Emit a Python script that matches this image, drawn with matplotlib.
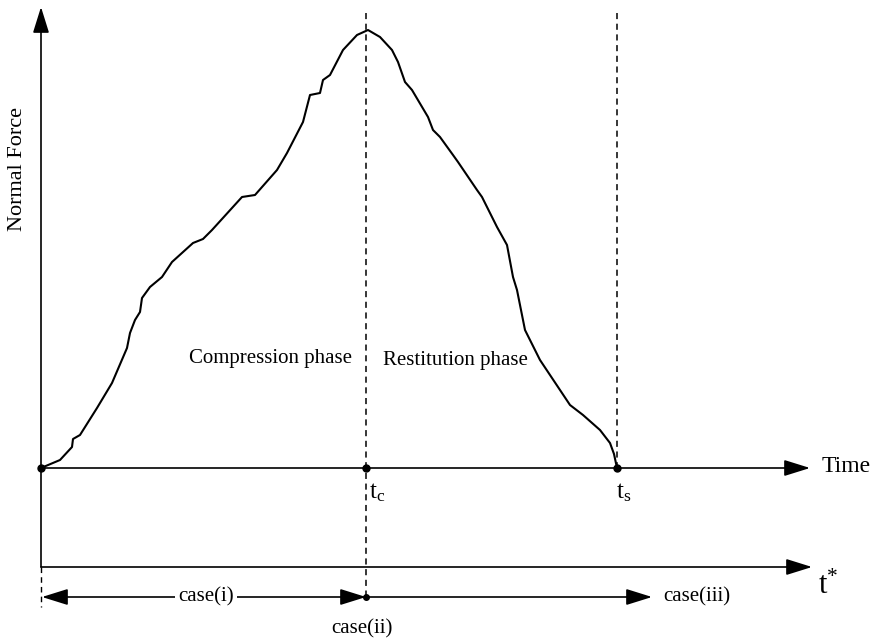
import matplotlib.pyplot as plt

plt.rcParams['font.family'] = ['Liberation Serif', 'DejaVu Serif']
plt.rcParams['mathtext.fontset'] = 'custom'
plt.rcParams['mathtext.rm'] = 'Liberation Serif'
plt.rcParams['mathtext.it'] = 'Liberation Serif'

# normal force curve (time, force in arbitrary units)
time = [0, 19, 31, 32, 39, 56, 71, 86, 89, 94, 99, 101, 109, 121, 131, 152,
        162, 171, 201, 214, 236, 246, 262, 269, 279, 282, 289, 302, 316, 327,
        339, 351, 357, 364, 371, 387, 392, 399, 412, 417, 436, 441, 456, 466,
        472, 476, 484, 499, 529, 542, 559, 569, 573, 576]
force = [0, 8, 21, 29, 33, 60, 85, 120, 135, 148, 156, 170, 181, 191, 206, 225,
         229, 238, 271, 273, 298, 315, 346, 373, 375, 388, 393, 418, 433, 438,
         431, 418, 406, 386, 378, 351, 338, 331, 313, 306, 278, 271, 241, 223,
         191, 178, 138, 108, 63, 53, 38, 25, 14, 0]

t_c = 325
t_s = 576
t_star_level = -99
case_level = -129

fig = plt.figure(figsize=(8.72, 6.43), dpi=100)
ax = fig.add_axes([0, 0, 1, 1])
ax.set_xlim(-41, 831)
ax.set_ylim(-175, 468)
ax.axis('off')

arrow = dict(arrowstyle='-|>,head_length=1.6,head_width=0.5', color='black',
             lw=1.2, mutation_scale=10, shrinkA=0, shrinkB=0)

# axes
ax.annotate('', xy=(0, 461), xytext=(0, t_star_level), arrowprops=arrow)
ax.plot([0, 0], [t_star_level, -139], color='black', lw=1.0, ls=(0, (4, 3)))
ax.annotate('', xy=(769, 0), xytext=(0, 0), arrowprops=arrow)
ax.annotate('', xy=(771, t_star_level), xytext=(0, t_star_level), arrowprops=arrow)

# curve
ax.plot(time, force, color='black', lw=1.5, solid_joinstyle='round')

# phase boundaries
ax.plot([t_c, t_c], [455, case_level], color='black', lw=1.1, ls=(0, (4, 3)))
ax.plot([t_s, t_s], [455, 0], color='black', lw=1.1, ls=(0, (4, 3)))

ax.plot([0, t_c, t_s], [0, 0, 0], 'o', color='black', ms=5)
ax.plot([t_c], [case_level], 'o', color='black', ms=4)

# cases
both = dict(arrow, arrowstyle='<|-|>,head_length=1.6,head_width=0.5')
ax.annotate('', xy=(t_c, case_level), xytext=(1, case_level), arrowprops=both)
ax.annotate('', xy=(611, case_level), xytext=(t_c, case_level), arrowprops=arrow)
ax.text(165, case_level, 'case(i)', fontsize=15, ha='center', va='center',
        bbox=dict(fc='white', ec='none', pad=2))
ax.text(t_c - 4, -161, 'case(ii)', fontsize=15, ha='center', va='center')
ax.text(622, case_level, 'case(iii)', fontsize=15, ha='left', va='center')

# labels
ax.text(229, 109, 'Compression phase', fontsize=15, ha='center', va='center')
ax.text(414, 108, 'Restitution phase', fontsize=15, ha='center', va='center')
ax.text(781, 2, 'Time', fontsize=17, ha='left', va='center')
ax.text(t_c + 3, -25, r'$\mathrm{t_c}$', fontsize=18, ha='left', va='center')
ax.text(t_s - 1, -25, r'$\mathrm{t_s}$', fontsize=18, ha='left', va='center')
ax.text(777, -118, r'$\mathrm{t}^{*}$', fontsize=22, ha='left', va='center')
ax.text(-23, 299, 'Normal Force', fontsize=16, rotation=90, ha='center', va='center')

fig.savefig('out.png', dpi=100)
